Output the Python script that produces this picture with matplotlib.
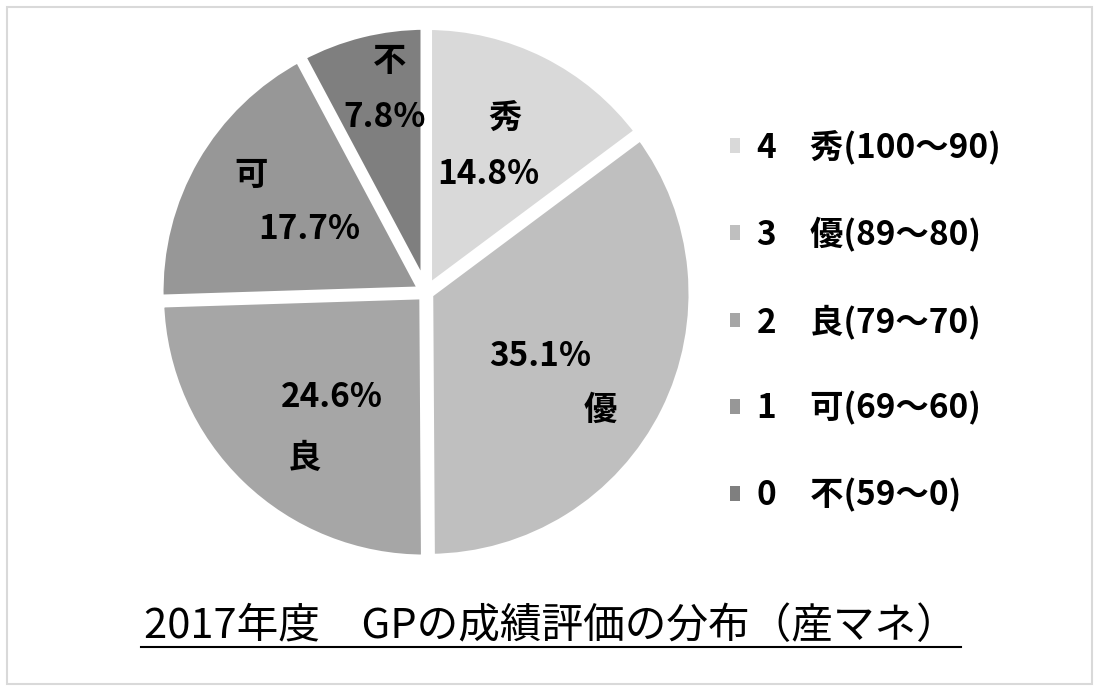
"""
2017年度 GPの成績評価の分布 (円グラフ)
"""
import matplotlib
matplotlib.use("Agg")
import matplotlib.pyplot as plt
from matplotlib.patches import Rectangle
from matplotlib.lines import Line2D

plt.rcParams['font.family'] = ['Noto Sans CJK JP', 'DejaVu Sans']

# データ
grades = ['秀', '優', '良', '可', '不']
shares = [14.8, 35.1, 24.6, 17.7, 7.8]
legend_labels = ['4　秀(100～90)', '3　優(89～80)', '2　良(79～70)',
                 '1　可(69～60)', '0　不(59～0)']
colors = ['#d9d9d9', '#bfbfbf', '#a6a6a6', '#979797', '#7f7f7f']
title = '2017年度　GPの成績評価の分布（産マネ）'

# ラベル位置 (名前, パーセント) -- データ座標
name_xy = [(0.298, 0.658), (0.657, -0.443), (-0.457, -0.625), (-0.660, 0.440), (-0.136, 0.870)]
pct_xy = [(0.234, 0.447), (0.430, -0.240), (-0.355, -0.398), (-0.442, 0.236), (-0.155, 0.662)]

W, H = 1094, 686
fig = plt.figure(figsize=(W / 100, H / 100), dpi=100)

# 円グラフ
cx, cy, R = 426, 292.5, 265
side = 2.2 * R
ax = fig.add_axes([(cx - side / 2) / W, (H - cy - side / 2) / H, side / W, side / H])
wedges, _ = ax.pie(shares, colors=colors, startangle=90, counterclock=False,
                   explode=[0.01] * 5,
                   wedgeprops=dict(edgecolor='white', linewidth=7))
ax.set_xlim(-1.1, 1.1), ax.set_ylim(-1.1, 1.1)
ax.set_aspect('equal')
ax.axis('off')

for g, s, nxy, pxy in zip(grades, shares, name_xy, pct_xy):
    ax.text(*nxy, g, ha='center', va='center', fontsize=24, fontweight='bold')
    ax.text(*pxy, f'{s:.1f}%', ha='center', va='center', fontsize=24, fontweight='bold')

# 凡例
handles = [Rectangle((0, 0), 1, 1, facecolor=c, edgecolor='none') for c in colors]
fig.legend(handles, legend_labels, loc='center left', bbox_to_anchor=(730 / W, 1 - 321 / H),
           frameon=False, prop=dict(size=24, weight='bold'),
           handlelength=0.3, handleheight=0.3, handletextpad=0.5,
           labelspacing=1.57, borderpad=0, borderaxespad=0)

# タイトル (下線付き)
t = fig.text(551 / W, 1 - 627 / H, title, ha='center', va='center', fontsize=30)
fig.canvas.draw()
bb = t.get_window_extent()
fig.add_artist(Line2D([(bb.x0 - 3) / W, (bb.x1 + 3) / W], [(H - 647) / H] * 2,
                      color='black', linewidth=1.5))

# 枠
fig.add_artist(Rectangle((7 / W, 2 / H), 1085 / W, 677 / H, fill=False,
                         edgecolor='#d9d9d9', linewidth=1.5))

plt.savefig('out.png', dpi=100)
